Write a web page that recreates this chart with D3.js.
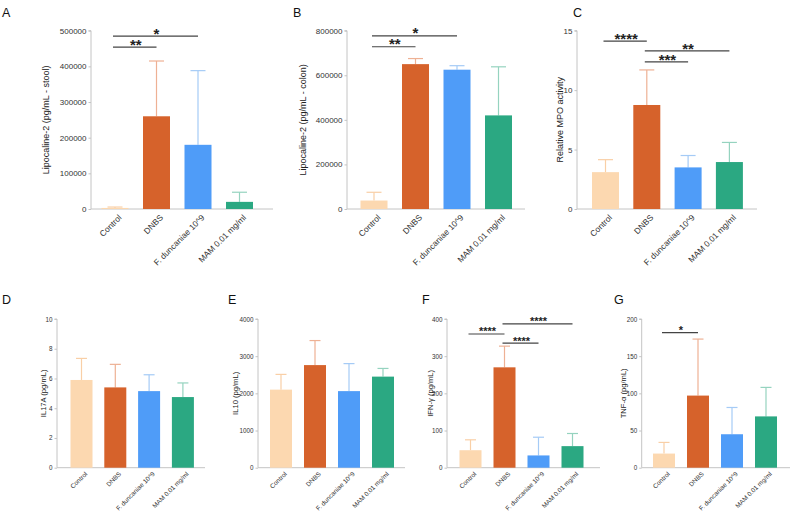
<!DOCTYPE html>
<html>
<head>
<meta charset="utf-8">
<script src="https://cdn.jsdelivr.net/npm/d3@7"></script>
<style>
  body { margin: 0; background: #fff; }
  svg { font-family: "Liberation Sans", Arial, sans-serif; }
</style>
</head>
<body>
<div id="chart"></div>
<script>
// groups shared by every panel
const groups = ['Control', 'DNBS', 'F. duncaniae 10^9', 'MAM 0.01 mg/ml']
const barColors = ['#fcd8b0', '#d6622b', '#4f9cf8', '#2ba882']
const errColors = ['#f9cfa6', '#eeb194', '#a5cbf6', '#95d3bf']

// A - lipocalin-2 in stool
const stoolMean = [3000, 260000, 180000, 20000]
const stoolSd = [2500, 155000, 208000, 27000]
const stoolTicks = [0, 100000, 200000, 300000, 400000, 500000]
const stoolSig = [[0, 1, '**', 454000], [0, 2, '*', 485000]]

// B - lipocalin-2 in colon
const colonMean = [38000, 650000, 625000, 420000]
const colonSd = [37000, 25000, 18000, 218000]
const colonTicks = [0, 200000, 400000, 600000, 800000]
const colonSig = [[0, 1, '**', 728000], [0, 2, '*', 777000]]

// C - MPO activity
const mpoMean = [3.1, 8.75, 3.5, 3.95]
const mpoSd = [1.05, 2.95, 1.0, 1.65]
const mpoTicks = [0, 5, 10, 15]
const mpoSig = [[0, 1, '****', 14.13], [1, 3, '**', 13.3], [1, 2, '***', 12.37]]

// D - IL17A
const il17Mean = [5.9, 5.4, 5.15, 4.75]
const il17Sd = [1.45, 1.55, 1.1, 0.95]
const il17Ticks = [0, 2, 4, 6, 8, 10]

// E - IL10
const il10Mean = [2100, 2760, 2060, 2450]
const il10Sd = [410, 660, 740, 220]
const il10Ticks = [0, 1000, 2000, 3000, 4000]

// F - IFN-gamma
const ifnMean = [47, 270, 33, 58]
const ifnSd = [28, 57, 49, 34]
const ifnTicks = [0, 100, 200, 300, 400]
const ifnSig = [[0, 1, '****', 359.6], [1, 3, '****', 387], [1, 2, '****', 335]]

// G - TNF-alpha
const tnfMean = [19, 97, 45, 69]
const tnfSd = [15, 76, 36, 39]
const tnfTicks = [0, 50, 100, 150, 200]
const tnfSig = [[0, 1, '*', 181.6]]

const W = 794, H = 514

const rowTop = { y0: 209, y1: 30.7, tickFont: 8, labelFont: 9, xFont: 8.4, xDy: 5, barW: 27, cap: 15, starFont: 15, starDy: 2.6 }
const rowBottom = { y0: 467.7, y1: 319, tickFont: 6.3, labelFont: 7.6, xFont: 6.4, xDy: 3.5, barW: 22, cap: 11, starFont: 11, starDy: 1.4 }

const panels = [
  { letter: 'A', lx: 2, ly: 17, axis: 91, c0: 115, step: 41.5, end: 273, row: rowTop,
    mean: stoolMean, sd: stoolSd, ticks: stoolTicks, sig: stoolSig,
    ylab: 'Lipocaline-2  (pg/mL - stool)', labX: 46 },
  { letter: 'B', lx: 293, ly: 17, axis: 347, c0: 374, step: 41.5, end: 525, row: rowTop,
    mean: colonMean, sd: colonSd, ticks: colonTicks, sig: colonSig,
    ylab: 'Lipocaline-2  (pg/mL - colon)', labX: 303 },
  { letter: 'C', lx: 573, ly: 17, axis: 577, c0: 605.5, step: 41.3, end: 757, row: rowTop,
    mean: mpoMean, sd: mpoSd, ticks: mpoTicks, sig: mpoSig,
    ylab: 'Relative MPO activity', labX: 560 },
  { letter: 'D', lx: 2, ly: 304, axis: 57, c0: 81.5, step: 33.8, end: 205, row: rowBottom,
    mean: il17Mean, sd: il17Sd, ticks: il17Ticks, sig: [],
    ylab: 'IL17A (pg/mL)', labX: 43 },
  { letter: 'E', lx: 228, ly: 304, axis: 258, c0: 281, step: 34, end: 405, row: rowBottom,
    mean: il10Mean, sd: il10Sd, ticks: il10Ticks, sig: [],
    ylab: 'IL10 (pg/mL)', labX: 235 },
  { letter: 'F', lx: 422, ly: 304, axis: 447, c0: 470.5, step: 34, end: 600, row: rowBottom,
    mean: ifnMean, sd: ifnSd, ticks: ifnTicks, sig: ifnSig,
    ylab: 'IFN-γ (pg/mL)', labX: 430 },
  { letter: 'G', lx: 614, ly: 304, axis: 641.7, c0: 664, step: 34, end: 790, row: rowBottom,
    mean: tnfMean, sd: tnfSd, ticks: tnfTicks, sig: tnfSig,
    ylab: 'TNF-α (pg/mL)', labX: 623 }
]

const svg = d3.select('#chart').append('svg')
  .attr('width', W)
  .attr('height', H)

panels.forEach(p => {
  const r = p.row
  const g = svg.append('g')

  const y = d3.scaleLinear()
    .domain([p.ticks[0], p.ticks[p.ticks.length - 1]])
    .range([r.y0, r.y1])

  // band scale so that the first band is centred on c0
  const x = d3.scaleBand()
    .domain(groups)
    .range([p.c0 - p.step / 2, p.c0 - p.step / 2 + p.step * groups.length])
    .paddingInner(1 - r.barW / p.step)
    .paddingOuter((1 - r.barW / p.step) / 2)

  // panel letter
  g.append('text')
    .attr('x', p.lx).attr('y', p.ly)
    .attr('font-size', 12.5)
    .attr('fill', '#111')
    .text(p.letter)

  // y axis
  const yAxis = d3.axisLeft(y)
    .tickValues(p.ticks)
    .tickSize(2.5)
    .tickPadding(2)
    .tickFormat(d3.format('d'))
  const ya = g.append('g')
    .attr('transform', `translate(${p.axis},0)`)
    .call(yAxis)
  ya.select('.domain').attr('stroke', '#c4c4c4').attr('d', `M-2.5,${r.y1}H0V${r.y0}`)
  ya.selectAll('.tick line').attr('stroke', '#c4c4c4')
  ya.selectAll('.tick text').attr('font-size', r.tickFont).attr('fill', '#333')
    .attr('font-family', '"Liberation Sans", Arial, sans-serif')

  // baseline
  g.append('line')
    .attr('x1', p.axis).attr('x2', p.end)
    .attr('y1', r.y0).attr('y2', r.y0)
    .attr('stroke', '#c4c4c4').attr('stroke-width', 1)

  // y label
  g.append('text')
    .attr('transform', `translate(${p.labX},${(r.y0 + r.y1) / 2}) rotate(-90)`)
    .attr('text-anchor', 'middle')
    .attr('dy', '0.35em')
    .attr('font-size', r.labelFont)
    .attr('fill', '#222')
    .text(p.ylab)

  // error bars (drawn behind bars)
  const rows = groups.map((k, i) => ({ k, i, m: p.mean[i], s: p.sd[i] }))
  const err = g.selectAll('.err').data(rows).enter().append('g')
  err.append('line')
    .attr('x1', d => x(d.k) + x.bandwidth() / 2)
    .attr('x2', d => x(d.k) + x.bandwidth() / 2)
    .attr('y1', d => y(d.m))
    .attr('y2', d => y(d.m + d.s))
    .attr('stroke', d => errColors[d.i]).attr('stroke-width', 1.2)
  err.append('line')
    .attr('x1', d => x(d.k) + x.bandwidth() / 2 - r.cap / 2)
    .attr('x2', d => x(d.k) + x.bandwidth() / 2 + r.cap / 2)
    .attr('y1', d => y(d.m + d.s))
    .attr('y2', d => y(d.m + d.s))
    .attr('stroke', d => errColors[d.i]).attr('stroke-width', 1.2)

  // bars
  g.selectAll('.bar').data(rows).enter().append('rect')
    .attr('x', d => x(d.k))
    .attr('width', x.bandwidth())
    .attr('y', d => y(d.m))
    .attr('height', d => r.y0 - y(d.m))
    .attr('fill', d => barColors[d.i])

  // x tick labels, rotated
  g.selectAll('.xl').data(groups).enter().append('text')
    .attr('transform', d => `translate(${x(d) + x.bandwidth() / 2 + 3},${r.y0 + r.xDy}) rotate(-45)`)
    .attr('text-anchor', 'end')
    .attr('dy', '0.7em')
    .attr('font-size', r.xFont)
    .attr('fill', '#333')
    .text(d => d)

  // significance brackets
  p.sig.forEach(([a, b, stars, level]) => {
    const xa = x(groups[a]) + x.bandwidth() / 2
    const xb = x(groups[b]) + x.bandwidth() / 2
    g.append('line')
      .attr('x1', xa - 2).attr('x2', xb)
      .attr('y1', y(level)).attr('y2', y(level))
      .attr('stroke', '#444').attr('stroke-width', 1.2)
    g.append('text')
      .attr('x', (xa + xb) / 2).attr('y', y(level) + r.starDy)
      .attr('text-anchor', 'middle')
      .attr('font-size', r.starFont)
      .attr('font-weight', 'bold')
      .attr('fill', '#222')
      .text(stars)
  })
})
</script>
</body>
</html>
